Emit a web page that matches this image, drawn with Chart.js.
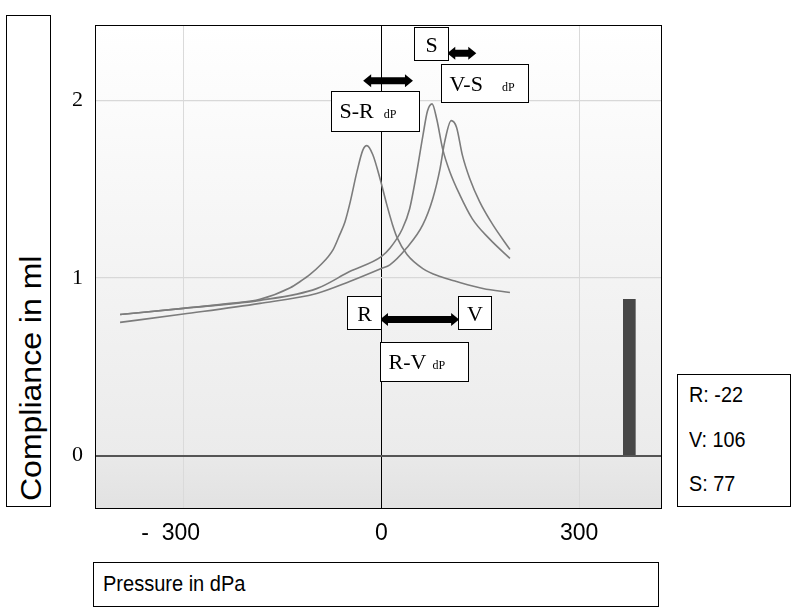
<!DOCTYPE html>
<html>
<head>
<meta charset="utf-8">
<script src="https://cdn.jsdelivr.net/npm/chart.js@4.4.1/dist/chart.umd.min.js"></script>
<style>
  body { margin: 0; background: #fff; width: 794px; height: 616px; position: relative; overflow: hidden;
         font-family: "Liberation Sans", Arial, sans-serif; color: #000; }
  #grafico { position: absolute; left: 0; top: 0; }
  .box { position: absolute; border: 1px solid #000; background: #fff; box-sizing: border-box; }
  .txt { position: absolute; white-space: nowrap; line-height: 1; transform-origin: 0 0; }
</style>
</head>
<body>
<canvas id="grafico" width="794" height="616"></canvas>

<div class="box" style="left:6px;top:15px;width:45px;height:492px"></div>
<div class="txt" id="ylab" style="left:17px;top:501px;font-size:32px;transform:rotate(-90deg) scaleY(0.9)">Compliance in ml</div>

<div class="box" style="left:93px;top:562px;width:566px;height:45px"></div>
<div class="txt" style="left:103px;top:573px;font-size:22px;transform:scaleX(0.91)">Pressure in dPa</div>

<div class="box" style="left:677px;top:374px;width:114px;height:133px"></div>
<div id="peaks"></div>

<script>
// ticks
const tickX = [-300, 0, 300]
const tickXText = ['-  300    ', '0', '300']
const tickY = [0, 1, 2]

// compliance curves (pressure in dPa, compliance in ml)
const pR = [-396, -300, -229, -184, -138, -123, -108, -93, -73, -63, -55, -47, -37, -28, -22, -13, -2, 8, 17, 24, 39, 63, 89, 114, 154, 195]
const cR = [0.794, 0.829, 0.857, 0.88, 0.945, 0.98, 1.02, 1.07, 1.16, 1.244, 1.317, 1.43, 1.597, 1.72, 1.745, 1.695, 1.56, 1.417, 1.30, 1.227, 1.132, 1.053, 1.008, 0.98, 0.941, 0.918]

const pS = [-396, -300, -184, -98, -48, 0, 13, 32, 43, 53, 63, 70, 77, 84, 93, 104, 119, 138, 164, 195]
const cS = [0.794, 0.829, 0.874, 0.94, 1.036, 1.12, 1.167, 1.277, 1.39, 1.58, 1.80, 1.94, 1.98, 1.895, 1.727, 1.597, 1.468, 1.333, 1.22, 1.11]

const pV = [-396, -300, -184, -98, -48, 0, 13, 38, 63, 78, 89, 96, 106, 114, 123, 134, 149, 169, 195]
const cV = [0.75, 0.797, 0.857, 0.913, 0.98, 1.053, 1.074, 1.167, 1.30, 1.446, 1.614, 1.765, 1.886, 1.849, 1.69, 1.56, 1.43, 1.30, 1.16]

// bar on the right
const barP = [376]
const barC = [0.88]

// peak readings
const peakNames = ['R', 'V', 'S']
const peakValues = [-22, 106, 77]

// annotation boxes and arrows, in data units
const notes = [
  { box: [-52, -1, 0.9, 0.715], text: 'R' },
  { box: [116, 167, 0.9, 0.715], text: 'V' },
  { box: [49.6, 101, 2.413, 2.228], text: 'S' },
  { box: [-76.5, 57, 2.05, 1.83], text: 'S-R', sub: 'dP', gap: 10 },
  { box: [91, 223, 2.207, 1.989], text: 'V-S', sub: 'dP', gap: 19 },
  { box: [-2, 131, 0.639, 0.42], text: 'R-V', sub: 'dP', gap: 6 }
]
const arrows = [
  [-27.5, 48, 2.11],
  [100, 144, 2.265],
  [-2, 118, 0.766]
]

const pts = (xs, ys) => xs.map((x, i) => ({ x: x, y: ys[i] }))

var peakBox = document.getElementById('peaks')
peakNames.forEach((n, i) => {
  var d = document.createElement('div')
  d.className = 'txt'
  d.style.left = '689px'
  d.style.top = (384 + i * 44.5) + 'px'
  d.style.fontSize = '22px'
  d.style.transform = 'scaleX(0.9)'
  d.textContent = n + ': ' + peakValues[i]
  peakBox.appendChild(d)
})

const overlay = {
  id: 'overlay',
  beforeDraw(chart) {
    const { ctx, chartArea: a, scales: { y } } = chart
    const z = y.getPixelForValue(0)
    ctx.save()
    let g = ctx.createLinearGradient(0, a.top, 0, z)
    g.addColorStop(0, '#ffffff')
    g.addColorStop(1, '#ebebeb')
    ctx.fillStyle = g
    ctx.fillRect(a.left, a.top, a.width, z - a.top)
    g = ctx.createLinearGradient(0, z, 0, a.bottom)
    g.addColorStop(0, '#e9e9e9')
    g.addColorStop(1, '#e2e2e2')
    ctx.fillStyle = g
    ctx.fillRect(a.left, z, a.width, a.bottom - z)
    ctx.restore()
  },
  afterDraw(chart) {
    const { ctx, chartArea: a, scales: { x, y } } = chart
    ctx.save()
    // arrows
    ctx.fillStyle = '#000'
    arrows.forEach(ar => {
      const x1 = x.getPixelForValue(ar[0]), x2 = x.getPixelForValue(ar[1]), yy = y.getPixelForValue(ar[2])
      const h = 3.5, H = 6.5, L = 8
      ctx.beginPath()
      ctx.moveTo(x1, yy)
      ctx.lineTo(x1 + L, yy - H)
      ctx.lineTo(x1 + L, yy - h)
      ctx.lineTo(x2 - L, yy - h)
      ctx.lineTo(x2 - L, yy - H)
      ctx.lineTo(x2, yy)
      ctx.lineTo(x2 - L, yy + H)
      ctx.lineTo(x2 - L, yy + h)
      ctx.lineTo(x1 + L, yy + h)
      ctx.lineTo(x1 + L, yy + H)
      ctx.closePath()
      ctx.fill()
    })
    // label boxes
    notes.forEach(n => {
      const l = Math.round(x.getPixelForValue(n.box[0])) + 0.5
      const r = Math.round(x.getPixelForValue(n.box[1])) + 0.5
      const t = Math.round(y.getPixelForValue(n.box[2])) + 0.5
      const b = Math.round(y.getPixelForValue(n.box[3])) + 0.5
      ctx.fillStyle = '#fff'
      ctx.fillRect(l, t, r - l, b - t)
      ctx.strokeStyle = '#000'
      ctx.lineWidth = 1
      ctx.strokeRect(l, t, r - l, b - t)
      ctx.fillStyle = '#000'
      ctx.font = '22px "Liberation Serif", "Times New Roman", serif'
      ctx.textBaseline = 'alphabetic'
      if (n.sub) {
        ctx.textAlign = 'left'
        const tx = l + 8
        ctx.fillText(n.text, tx, t + 26)
        const w = ctx.measureText(n.text).width
        ctx.font = '12px "Liberation Serif", "Times New Roman", serif'
        ctx.fillText(n.sub, tx + w + n.gap, t + 26)
      } else {
        ctx.textAlign = 'center'
        ctx.fillText(n.text, (l + r) / 2, (t + b) / 2 + 8)
      }
    })
    // plot border
    ctx.strokeStyle = '#000'
    ctx.lineWidth = 1
    ctx.strokeRect(Math.round(a.left) + 0.5, Math.round(a.top) + 0.5, Math.round(a.width), Math.round(a.height))
    ctx.restore()
  }
}

const lineStyle = { borderColor: '#7c7c7c', borderWidth: 1.6, pointRadius: 0, fill: false, cubicInterpolationMode: 'monotone' }

var ctx = document.getElementById('grafico').getContext('2d')
var grafico = new Chart(ctx, {
  type: 'line',
  data: {
    datasets: [
      Object.assign({ label: 'R', data: pts(pR, cR) }, lineStyle),
      Object.assign({ label: 'S', data: pts(pS, cS) }, lineStyle),
      Object.assign({ label: 'V', data: pts(pV, cV) }, lineStyle),
      { type: 'bar', label: 'bar', data: pts(barP, barC), backgroundColor: '#474747', barThickness: 12 }
    ]
  },
  options: {
    responsive: false,
    animation: false,
    devicePixelRatio: 1,
    layout: { padding: { left: 0, top: 23, right: 133, bottom: 0 } },
    plugins: { legend: { display: false }, tooltip: { enabled: false } },
    scales: {
      x: {
        type: 'linear',
        min: -434,
        max: 424,
        offset: false,
        afterBuildTicks: s => { s.ticks = tickX.map(v => ({ value: v })) },
        afterFit: s => { s.height = 108 },
        border: { display: false },
        grid: {
          offset: false,
          drawTicks: false,
          color: c => (c.tick && c.tick.value === 0) ? '#000' : '#dadada',
          lineWidth: 1
        },
        ticks: {
          padding: 12,
          color: '#000',
          maxRotation: 0,
          autoSkip: false,
          font: { family: '"Liberation Sans", Arial, sans-serif', size: 23 },
          callback: v => tickXText[tickX.indexOf(v)]
        }
      },
      y: {
        type: 'linear',
        min: -0.295,
        max: 2.423,
        afterBuildTicks: s => { s.ticks = tickY.map(v => ({ value: v })) },
        afterFit: s => { s.width = 95 },
        border: { display: false },
        grid: {
          drawTicks: false,
          color: c => (c.tick && c.tick.value === 0) ? '#555555' : '#d8d8d8',
          lineWidth: c => (c.tick && c.tick.value === 0) ? 2 : 1.2
        },
        ticks: {
          padding: 12,
          color: '#000',
          font: { family: '"Liberation Serif", "Times New Roman", serif', size: 22 },
          callback: v => String(v)
        }
      }
    }
  },
  plugins: [overlay]
})
</script>
</body>
</html>
